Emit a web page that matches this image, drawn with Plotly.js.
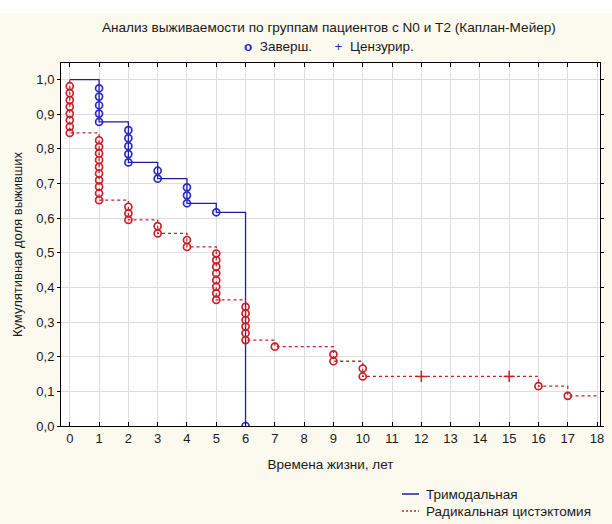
<!DOCTYPE html>
<html><head><meta charset="utf-8">
<script src="https://cdn.plot.ly/plotly-3.0.1.min.js"></script>
<style>html,body{margin:0;padding:0;background:#fcf9ee;}#chart{width:612px;height:524px;}</style>
</head><body><div id="chart"></div>
<script>
// Trimodal group: KM step curve
const triTimes = [0, 1, 2, 3, 4, 5, 6];
const triSurv  = [1.0, 0.878, 0.761, 0.714, 0.643, 0.617, 0.0];
// Trimodal completed (event) markers
const triEventX = [1, 1, 1, 1, 1, 2, 2, 2, 2, 2, 3, 3, 4, 4, 4, 5, 6];
const triEventY = [0.975, 0.951, 0.926, 0.902, 0.878, 0.854, 0.831, 0.808, 0.785, 0.761, 0.737, 0.714, 0.689, 0.666, 0.643, 0.617, 0.0];

// Radical cystectomy group: KM step curve
const radTimes = [0, 0, 1, 2, 3, 4, 5, 6, 7, 9, 10, 16, 17, 18];
const radSurv  = [1.0, 0.846, 0.652, 0.595, 0.556, 0.517, 0.364, 0.248, 0.229, 0.187, 0.143, 0.115, 0.087, 0.087];
// Radical cystectomy completed (event) markers
const radEventX = [0,0,0,0,0,0,0,0, 1,1,1,1,1,1,1,1,1,1, 2,2,2, 3,3, 4,4, 5,5,5,5,5,5,5,5, 6,6,6,6,6,6, 7, 9,9, 10,10, 16, 17];
const radEventY = [0.981,0.961,0.941,0.922,0.902,0.883,0.864,0.846,
                   0.825,0.806,0.787,0.768,0.748,0.729,0.710,0.691,0.672,0.652,
                   0.633,0.614,0.595, 0.577,0.556, 0.537,0.517,
                   0.498,0.479,0.460,0.441,0.421,0.402,0.383,0.364,
                   0.344,0.325,0.306,0.287,0.268,0.248, 0.229, 0.207,0.187, 0.166,0.143, 0.115, 0.087];
// Radical cystectomy censored markers
const radCensX = [12, 15];
const radCensY = [0.143, 0.143];

const xTicks = [0,1,2,3,4,5,6,7,8,9,10,11,12,13,14,15,16,17,18];
const seriesNames = ['Тримодальная', 'Радикальная цистэктомия'];

const BLUE_LINE = '#1f1f9a', BLUE_MK = '#2a2ac8';
const RED_LINE = '#b3282c', RED_MK = '#c8202a';

const traces = [
  {x: triTimes, y: triSurv, type: 'scatter', mode: 'lines', line: {shape: 'hv', color: BLUE_LINE, width: 1.3},
   name: seriesNames[0], showlegend: false},
  {x: radTimes, y: radSurv, type: 'scatter', mode: 'lines', line: {shape: 'hv', color: RED_LINE, width: 1.3, dash: '3px,3px'},
   name: seriesNames[1], showlegend: false},
  {x: triEventX, y: triEventY, type: 'scatter', mode: 'markers', showlegend: false,
   marker: {symbol: 'circle-open', size: 7, color: BLUE_MK, line: {width: 1.7, color: BLUE_MK}}},
  {x: radEventX, y: radEventY, type: 'scatter', mode: 'markers', showlegend: false,
   marker: {symbol: 'circle-open', size: 7, color: RED_MK, line: {width: 1.7, color: RED_MK}}},
  {x: radCensX, y: radCensY, type: 'scatter', mode: 'markers', showlegend: false,
   marker: {symbol: 'cross-thin-open', size: 8, color: RED_MK, line: {width: 1.5, color: RED_MK}}}
];

const FONT = 'Liberation Sans, Arial, sans-serif';
// pixel -> paper helpers for the legend block below the plot
const PL = 61, PW = 539, PB = 426, PH = 363;
const px = v => (v - PL) / PW;
const py = v => (PB - v) / PH;

const layout = {
  width: 612, height: 524,
  margin: {l: 61, r: 12, t: 63, b: 98, autoexpand: false},
  paper_bgcolor: '#fcf9ee', plot_bgcolor: '#ffffff',
  separators: ', ',
  font: {family: FONT, size: 13, color: '#1a1a1a'},
  showlegend: false,
  xaxis: {range: [-0.3, 18.1], tickvals: xTicks, ticktext: xTicks.map(String), automargin: false,
          showgrid: true, gridcolor: '#dedede', gridwidth: 1, zeroline: false,
          showline: true, linecolor: '#000', linewidth: 1, mirror: 'ticks',
          ticks: 'inside', ticklen: 4, tickcolor: '#000', tickfont: {size: 13, family: FONT},
          title: {text: 'Времена жизни, лет', font: {size: 13.5, family: FONT}, standoff: 14}},
  yaxis: {range: [0, 1.048], dtick: 0.1, tick0: 0, tickformat: '.1f', automargin: false,
          showgrid: true, gridcolor: '#dedede', gridwidth: 1, zeroline: false,
          showline: true, linecolor: '#000', linewidth: 1, mirror: 'ticks',
          ticks: 'outside', ticklen: 3, tickcolor: '#000', tickfont: {size: 13, family: FONT},
          title: {text: 'Кумулятивная доля выживших', font: {size: 13, family: FONT}, standoff: 10}},
  title: {text: 'Анализ выживаемости по группам пациентов с N0 и T2 (Каплан-Мейер)',
          x: 0.497, xref: 'paper', xanchor: 'center', y: 1 - 27/524, yref: 'container', yanchor: 'middle',
          font: {size: 13.6, family: FONT, color: '#1a1a1a'}},
  annotations: [
    {xref: 'paper', yref: 'paper', x: 0.497, y: 1 + 17/363, xanchor: 'center', yanchor: 'middle', showarrow: false,
     text: '<span style="color:#2a2ac8"><b>o</b></span>  Заверш.      <span style="color:#2a2ac8">+</span>  Цензурир.',
     font: {size: 13.5, family: FONT, color: '#1a1a1a'}},
    {xref: 'paper', yref: 'paper', x: px(424), y: py(494), xanchor: 'left', yanchor: 'middle', showarrow: false,
     text: seriesNames[0], font: {size: 13.5, family: FONT, color: '#1a1a1a'}},
    {xref: 'paper', yref: 'paper', x: px(424), y: py(511), xanchor: 'left', yanchor: 'middle', showarrow: false,
     text: seriesNames[1], font: {size: 13.5, family: FONT, color: '#1a1a1a'}}
  ],
  shapes: [
    {type: 'rect', xref: 'paper', yref: 'paper', x0: -0.12, x1: 1.03, y0: 1 + 50/363, y1: 1 + 64/363,
     fillcolor: '#ffffff', line: {width: 0}, layer: 'below'},
    {type: 'line', xref: 'paper', yref: 'paper', x0: px(402), x1: px(419), y0: py(494), y1: py(494),
     line: {color: BLUE_LINE, width: 1.5}},
    {type: 'line', xref: 'paper', yref: 'paper', x0: px(402), x1: px(419), y0: py(511), y1: py(511),
     line: {color: RED_LINE, width: 1.3, dash: '2px,2px'}}
  ]
};

Plotly.newPlot('chart', traces, layout, {displayModeBar: false, staticPlot: true});
</script></body></html>
